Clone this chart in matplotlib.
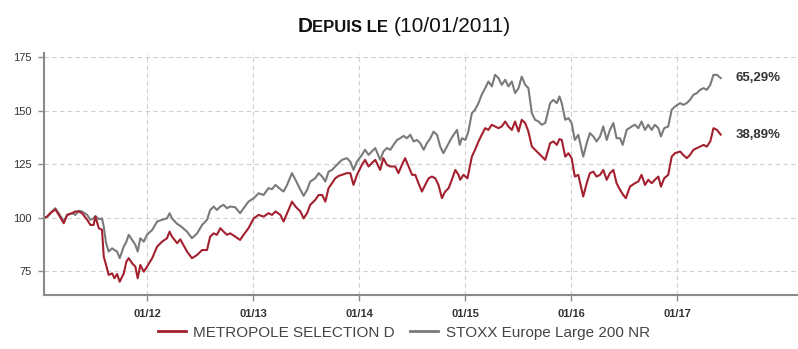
import matplotlib
matplotlib.use("Agg")
import matplotlib.pyplot as plt
import matplotlib.dates as mdates
from matplotlib.lines import Line2D
import pandas as pd

plt.rcParams['font.family'] = ['Liberation Sans', 'DejaVu Sans']

# ---- Base-100 performance since launch (10/01/2011) ----
# Observation dates common to both series up to April 2014
dates_2011_2014 = [
    "2011-01-10", "2011-01-21", "2011-02-01", "2011-02-18", "2011-03-02", "2011-03-19",
    "2011-03-31", "2011-04-17", "2011-04-28", "2011-05-10", "2011-05-21", "2011-06-08",
    "2011-06-19", "2011-06-30", "2011-07-06", "2011-07-18", "2011-07-29", "2011-08-04",
    "2011-08-12", "2011-08-21", "2011-09-02", "2011-09-10", "2011-09-19", "2011-09-28",
    "2011-10-12", "2011-10-21", "2011-10-29", "2011-11-10", "2011-11-21", "2011-11-29",
    "2011-12-08", "2011-12-20", "2011-12-31", "2012-01-18", "2012-02-04", "2012-02-21",
    "2012-03-09", "2012-03-18", "2012-03-26", "2012-04-13", "2012-04-24", "2012-05-17",
    "2012-06-03", "2012-06-21", "2012-07-08", "2012-07-25",
    "2012-08-05", "2012-08-17", "2012-08-28", "2012-09-09", "2012-09-20", "2012-10-02",
    "2012-10-13", "2012-10-30", "2012-11-16", "2012-11-28", "2012-12-15",
    "2013-01-02", "2013-01-19", "2013-02-05", "2013-02-22", "2013-03-06", "2013-03-18",
    "2013-04-04", "2013-04-15", "2013-04-27", "2013-05-14", "2013-05-26", "2013-06-12",
    "2013-06-23", "2013-07-05", "2013-07-16", "2013-08-02", "2013-08-14", "2013-08-26",
    "2013-09-06", "2013-09-17", "2013-09-29", "2013-10-10", "2013-10-22", "2013-11-02",
    "2013-11-19", "2013-12-01", "2013-12-12", "2013-12-24",
    "2014-01-10", "2014-01-21", "2014-02-02", "2014-02-13", "2014-02-25", "2014-03-14",
    "2014-03-25", "2014-04-06",
]

fund_2011_2014 = [
    100.0, 100.6, 102.2, 104.0, 101.4, 97.5, 101.4, 102.2, 103.0, 103.0, 102.2, 99.1,
    96.7, 96.7, 100.6, 95.2, 94.4, 81.9, 78.0, 73.4, 74.1, 71.8, 73.8, 70.2,
    74.1, 79.6, 81.2, 78.8, 77.2, 71.8, 78.0, 74.9, 77.2, 81.2, 86.6, 88.9,
    90.5, 93.6, 91.3, 88.2, 90.0, 84.3, 81.2, 82.7, 85.0, 85.0,
    91.3, 92.8, 92.1, 95.2, 93.6, 92.1, 92.8, 91.3, 89.7, 92.1, 95.2,
    99.8, 101.4, 100.6, 102.2, 101.4, 103.0, 101.4, 98.3, 102.2, 107.6, 105.3, 103.0,
    99.8, 102.2, 106.1, 108.4, 110.7, 110.7, 107.6, 113.9, 116.2, 118.5, 119.6, 120.1,
    120.9, 120.9, 115.4, 120.1,
    124.8, 127.1, 124.0, 125.6, 127.1, 122.4, 127.9, 124.8,
]

index_2011_2014 = [
    100.0, 100.6, 102.2, 104.5, 102.2, 98.3, 101.4, 102.2, 101.4, 103.3, 103.0, 101.4,
    99.1, 99.8, 100.9, 99.4, 99.8, 95.9, 88.2, 84.3, 85.8, 85.0, 84.3, 81.2,
    86.6, 88.9, 92.1, 89.7, 87.4, 84.3, 90.5, 88.9, 92.1, 94.4, 98.3, 99.1,
    99.8, 102.2, 99.8, 97.2, 96.3, 93.6, 90.5, 92.8, 96.7, 99.1,
    103.7, 105.3, 103.7, 105.3, 106.1, 104.5, 105.3, 105.0, 102.2, 104.5, 107.6,
    109.2, 111.5, 110.7, 113.9, 113.4, 115.4, 113.4, 112.3, 115.4, 120.9, 117.8, 113.1,
    110.3, 113.1, 117.0, 118.5, 120.9, 119.3, 117.0, 121.6, 122.4, 124.0, 125.6, 127.1,
    127.9, 126.3, 122.4, 126.3,
    129.4, 131.8, 129.4, 131.0, 132.6, 127.1, 131.0, 132.6,
]

# METROPOLE SELECTION D, April 2014 onwards
fund_dates_2014_2017 = [
    "2014-04-18", "2014-05-05", "2014-05-16", "2014-05-28", "2014-06-08", "2014-06-20",
    "2014-07-02", "2014-07-13", "2014-07-24", "2014-08-05", "2014-08-16", "2014-08-28",
    "2014-09-08", "2014-09-20", "2014-10-01", "2014-10-13", "2014-10-24", "2014-11-05",
    "2014-11-16", "2014-11-28", "2014-12-09", "2014-12-15", "2014-12-26", "2015-01-09",
    "2015-01-24", "2015-02-04", "2015-02-16", "2015-02-27", "2015-03-11", "2015-03-22",
    "2015-04-03", "2015-04-14", "2015-04-26", "2015-05-07", "2015-05-19", "2015-05-30",
    "2015-06-11", "2015-06-22", "2015-07-04", "2015-07-15", "2015-07-27", "2015-08-07",
    "2015-08-19", "2015-08-30", "2015-09-11", "2015-09-22", "2015-10-04",
    "2015-10-21", "2015-11-01", "2015-11-13", "2015-11-22", "2015-11-30", "2015-12-12",
    "2015-12-23", "2016-01-03", "2016-01-14", "2016-01-26", "2016-02-03", "2016-02-12",
    "2016-02-24", "2016-03-06", "2016-03-18", "2016-03-29", "2016-04-10", "2016-04-21",
    "2016-05-03", "2016-05-14", "2016-05-26", "2016-06-06", "2016-06-18", "2016-06-29",
    "2016-07-08", "2016-07-22", "2016-08-08", "2016-08-20", "2016-08-31", "2016-09-12",
    "2016-09-23", "2016-10-05", "2016-10-16", "2016-10-28", "2016-11-06", "2016-11-17",
    "2016-12-01", "2016-12-13", "2016-12-24", "2017-01-11", "2017-01-22", "2017-02-03",
    "2017-02-14", "2017-02-26", "2017-03-10", "2017-03-21", "2017-04-02", "2017-04-13",
    "2017-04-25", "2017-05-06", "2017-05-18", "2017-05-31",
]

fund_2014_2017 = [
    124.0, 124.0, 120.9, 124.8, 127.9, 124.0, 120.1, 120.1, 116.2, 112.3, 115.4, 118.5,
    119.3, 118.5, 115.4, 109.2, 112.3, 113.9, 117.8, 122.4, 120.1, 117.8, 120.1, 118.5,
    128.6, 131.8, 135.7, 138.8, 141.9, 141.1, 143.5, 142.7, 141.9, 142.7, 145.0, 142.7,
    141.1, 145.0, 140.3, 145.8, 144.3, 140.3, 133.3, 131.8, 130.2, 128.6, 127.1,
    134.9, 135.7, 134.1, 136.8, 136.4, 128.6, 130.2, 127.9, 119.3, 120.1, 115.4, 110.0,
    116.2, 120.9, 121.6, 119.3, 120.1, 122.4, 117.8, 120.9, 122.4, 116.2, 113.1, 110.7,
    109.2, 114.6, 116.2, 117.0, 120.1, 115.4, 117.8, 116.2, 117.8, 119.3, 114.6, 118.5,
    120.1, 128.6, 130.2, 131.0, 129.4, 127.9, 129.4, 131.8, 132.6, 133.3, 134.1, 133.3,
    135.7, 141.9, 141.1, 138.89,
]

# STOXX Europe Large 200 NR, April 2014 onwards
index_dates_2014_2017 = [
    "2014-04-18", "2014-04-29", "2014-05-11", "2014-05-22", "2014-06-03", "2014-06-14",
    "2014-06-26", "2014-07-07", "2014-07-19", "2014-07-30", "2014-08-11", "2014-08-22",
    "2014-09-03", "2014-09-14", "2014-09-26", "2014-10-07", "2014-10-18", "2014-10-30",
    "2014-11-11", "2014-11-22", "2014-12-04", "2014-12-13", "2014-12-21", "2015-01-02",
    "2015-01-12", "2015-01-24", "2015-02-04", "2015-02-16", "2015-02-27", "2015-03-11",
    "2015-03-22", "2015-04-03", "2015-04-14", "2015-04-26", "2015-05-07", "2015-05-19",
    "2015-05-30", "2015-06-11", "2015-06-22", "2015-07-04", "2015-07-15", "2015-07-27",
    "2015-08-07", "2015-08-19", "2015-08-30", "2015-09-11", "2015-09-22", "2015-10-04",
    "2015-10-21", "2015-11-01", "2015-11-13", "2015-11-22", "2015-11-30", "2015-12-12",
    "2015-12-23", "2016-01-03", "2016-01-14", "2016-01-26", "2016-02-03", "2016-02-12",
    "2016-02-24", "2016-03-06", "2016-03-18", "2016-03-29", "2016-04-10", "2016-04-21",
    "2016-05-03", "2016-05-14", "2016-05-26", "2016-06-06", "2016-06-18", "2016-06-27",
    "2016-07-11", "2016-07-28", "2016-08-08", "2016-08-20", "2016-08-31", "2016-09-12",
    "2016-09-23", "2016-10-05", "2016-10-16", "2016-10-28", "2016-11-06", "2016-11-17",
    "2016-12-01", "2016-12-13", "2016-12-24", "2017-01-11", "2017-01-22", "2017-02-03",
    "2017-02-14", "2017-02-26", "2017-03-10", "2017-03-21", "2017-04-02", "2017-04-13",
    "2017-04-25", "2017-05-06", "2017-05-18", "2017-05-31",
]

index_2014_2017 = [
    131.8, 134.1, 136.4, 137.2, 138.3, 137.2, 138.8, 135.7, 136.4, 134.9, 131.8, 134.9,
    137.2, 140.3, 138.8, 133.3, 130.2, 133.3, 136.4, 138.8, 141.1, 134.1, 137.2, 136.4,
    140.3, 148.9, 150.5, 153.6, 157.5, 160.6, 163.7, 161.4, 166.8, 165.3, 162.1, 164.5,
    161.4, 163.7, 158.3, 160.6, 166.0, 162.1, 160.6, 148.9, 145.8, 145.0, 143.5, 144.3,
    153.6, 155.1, 153.6, 156.7, 153.6, 145.8, 146.6, 144.3, 136.4, 138.8, 134.1, 128.6,
    134.9, 139.6, 138.0, 135.7, 138.0, 142.7, 136.4, 141.1, 144.3, 137.2, 137.2, 134.1,
    141.1, 142.7, 143.5, 141.9, 145.0, 141.1, 143.5, 141.1, 143.5, 141.9, 138.0, 141.9,
    142.7, 150.5, 152.0, 153.6, 152.8, 153.6, 155.1, 157.5, 158.3, 159.8, 160.6, 159.8,
    162.1, 166.8, 166.8, 165.29,
]

fund_name = "METROPOLE SELECTION D"
index_name = "STOXX Europe Large 200 NR"
year_ticks = ["2012-01-01", "2013-01-01", "2014-01-01", "2015-01-01", "2016-01-01", "2017-01-01"]
y_ticks = [75, 100, 125, 150, 175]

FUND_COLOR = "#a3202f"
INDEX_COLOR = "#7a7a7a"
AXIS_COLOR = "#8a8a8a"
TEXT_COLOR = "#333333"

fund_x = pd.to_datetime(dates_2011_2014 + fund_dates_2014_2017)
fund_y = fund_2011_2014 + fund_2014_2017
index_x = pd.to_datetime(dates_2011_2014 + index_dates_2014_2017)
index_y = index_2011_2014 + index_2014_2017

W, H = 798, 349
fig = plt.figure(figsize=(W / 100, H / 100), dpi=100)
ax = fig.add_axes([44 / W, 1 - 295 / H, (797 - 44) / W, (295 - 53) / H])

ax.plot(index_x, index_y, color=INDEX_COLOR, lw=1.5, solid_joinstyle='round')
ax.plot(fund_x, fund_y, color=FUND_COLOR, lw=1.5, solid_joinstyle='round')

ax.set_xlim(pd.Timestamp("2011-01-10"), pd.Timestamp("2018-02-18"))
ax.set_ylim(64, 177)
ax.set_yticks(y_ticks)
ax.set_xticks(pd.to_datetime(year_ticks))
ax.xaxis.set_major_formatter(mdates.DateFormatter("%m/%y"))

ax.grid(True, color="#cfcfcf", linestyle=(0, (4, 3)), linewidth=0.8)
ax.set_axisbelow(True)
for side in ("top", "right"):
    ax.spines[side].set_visible(False)
for side in ("left", "bottom"):
    ax.spines[side].set_color(AXIS_COLOR)
    ax.spines[side].set_linewidth(1.5)

ax.tick_params(axis="both", direction="out", length=4, width=1, color=AXIS_COLOR,
               labelsize=8, labelcolor=TEXT_COLOR)
ax.tick_params(axis="y", pad=5)
ax.tick_params(axis="x", pad=6)
for lbl in ax.get_xticklabels():
    lbl.set_fontweight("bold")

# Cumulative performance at the last observation
for xs, ys in ((index_x, index_y), (fund_x, fund_y)):
    perf = f"{ys[-1] - 100:.2f}%".replace(".", ",")
    ax.annotate(perf, xy=(xs[-1], ys[-1]), xytext=(15, 0), textcoords="offset pixels",
                va="center", ha="left", fontsize=9.5, fontweight="bold", color=TEXT_COLOR)

# Title in small caps: "DEPUIS LE (10/01/2011)"
renderer = fig.canvas.get_renderer()
parts = [("D", 15, "bold", 0), ("EPUIS LE", 12, "bold", 5), ("(10/01/2011)", 15, "normal", 0)]
texts = []
for s, size, weight, gap in parts:
    t = fig.text(0, 1 - 32 / H, s, fontsize=size, fontweight=weight, color="#111111",
                 va="baseline", ha="left")
    texts.append((t, gap))
widths = [t.get_window_extent(renderer).width for t, _ in texts]
total = sum(widths) + sum(g for _, g in texts)
x0 = 404 - total / 2
for (t, gap), w in zip(texts, widths):
    t.set_x(x0 / W)
    x0 += w + gap

handles = [Line2D([], [], color=FUND_COLOR, lw=2), Line2D([], [], color=INDEX_COLOR, lw=2)]
leg = fig.legend(handles, [fund_name, index_name], loc="lower center",
                 bbox_to_anchor=(404 / W, 0.0), ncol=2, frameon=False, fontsize=11,
                 handlelength=1.8, handletextpad=0.5, columnspacing=1.0, borderpad=0.1)
for t in leg.get_texts():
    t.set_color("#444444")

fig.savefig("out.png", dpi=100)
